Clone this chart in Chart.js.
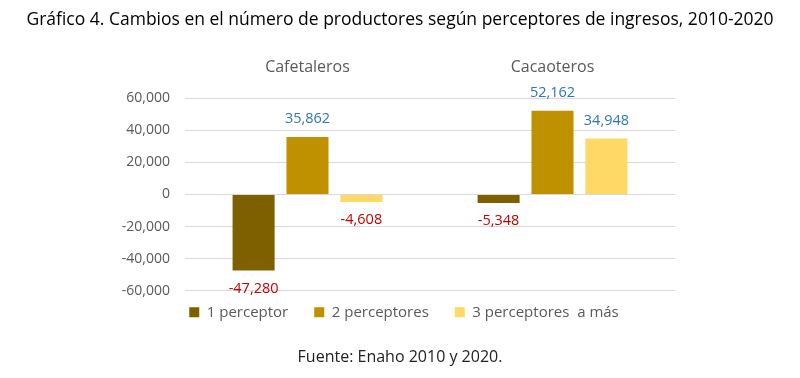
<!DOCTYPE html>
<html><head><meta charset="utf-8">
<script src="https://cdn.jsdelivr.net/npm/chart.js@4/dist/chart.umd.min.js"></script>
<style>html,body{margin:0;padding:0;background:#fff}#w{width:800px;height:378px}</style>
</head><body><div id="w"><canvas id="c"></canvas></div>
<script>
const categories = ["Cafetaleros", "Cacaoteros"];
const seriesNames = ["1 perceptor", "2 perceptores", "3 perceptores  a más"];
const serie1 = [-47280, -5348];
const serie2 = [35862, 52162];
const serie3 = [-4608, 34948];
const yTicks = [-60000, -40000, -20000, 0, 20000, 40000, 60000];
const colors = ["#7F6000", "#BF9000", "#FFD966"];
const FONT = "'Open Sans', sans-serif";
const LEGEND_PAD = 26;
const LEGEND_LIFT = 12;

const fmt = v => (v < 0 ? "-" : "") + Math.abs(v).toLocaleString("en-US");

const valueLabels = {
  id: "valueLabels",
  afterDatasetsDraw(chart) {
    const ctx = chart.ctx;
    ctx.save();
    ctx.font = "14.5px " + FONT;
    ctx.textAlign = "center";
    ctx.textBaseline = "middle";
    chart.data.datasets.forEach((ds, i) => {
      const meta = chart.getDatasetMeta(i);
      meta.data.forEach((el, j) => {
        const v = ds.data[j];
        if (v >= 0) {
          ctx.fillStyle = "#2E75B6";
          ctx.fillText(fmt(v), el.x, el.y - 18);
        } else {
          ctx.fillStyle = "#C00000";
          ctx.fillText(fmt(v), el.x, el.y + 18);
        }
      });
    });
    ctx.restore();
  }
};

// tighten the space above the legend row while keeping wide gaps between items
const legendTighten = {
  id: "legendTighten",
  beforeLayout(chart) {
    const lg = chart.legend;
    if (lg && !lg._tight) {
      const orig = lg.fit;
      lg.fit = function () { orig.call(this); this.height -= LEGEND_LIFT; };
      lg._tight = true;
    }
  },
  afterLayout(chart) {
    const lg = chart.legend;
    if (lg) { lg.top -= LEGEND_LIFT; lg.height += LEGEND_LIFT; lg.left += 4; lg.right += 4; }
  }
};

new Chart(document.getElementById("c"), {
  type: "bar",
  data: {
    labels: categories,
    datasets: [
      { label: seriesNames[0], data: serie1, backgroundColor: colors[0] },
      { label: seriesNames[1], data: serie2, backgroundColor: colors[1] },
      { label: seriesNames[2], data: serie3, backgroundColor: colors[2] }
    ]
  },
  options: {
    responsive: true,
    maintainAspectRatio: false,
    animation: false,
    datasets: { bar: { categoryPercentage: 0.66, barPercentage: 0.78 } },
    layout: { padding: { left: 0, right: 0, top: 0, bottom: 7 } },
    plugins: {
      title: {
        display: true,
        text: "Gráfico 4. Cambios en el número de productores según perceptores de ingresos, 2010-2020",
        color: "#000",
        font: { family: FONT, size: 17.5, weight: "normal" },
        padding: { top: 10, bottom: 6 }
      },
      subtitle: {
        display: true,
        position: "bottom",
        text: "Fuente: Enaho 2010 y 2020.",
        color: "#222",
        font: { family: FONT, size: 16, weight: "normal" },
        padding: { top: 18, bottom: 4 }
      },
      legend: {
        position: "bottom",
        labels: {
          boxWidth: 10, boxHeight: 10, padding: LEGEND_PAD,
          color: "#595959",
          font: { family: FONT, size: 15 }
        }
      },
      tooltip: { enabled: false }
    },
    scales: {
      x: {
        position: "top",
        grid: { display: false, drawTicks: false },
        border: { display: false },
        ticks: { color: "#595959", font: { family: FONT, size: 16 }, padding: 21 }
      },
      y: {
        min: -60000, max: 60000,
        afterBuildTicks: s => { s.ticks = yTicks.map(v => ({ value: v })); },
        afterFit: s => { s.width = 185; },
        grid: { color: "#D9D9D9", drawTicks: false },
        border: { display: false },
        ticks: { color: "#595959", font: { family: FONT, size: 14 }, padding: 15, callback: v => fmt(v) }
      },
      yRight: {
        position: "right",
        display: true,
        afterFit: s => { s.width = 125; },
        grid: { display: false, drawTicks: false },
        border: { display: false },
        ticks: { display: false }
      }
    }
  },
  plugins: [valueLabels, legendTighten]
});
</script></body></html>
